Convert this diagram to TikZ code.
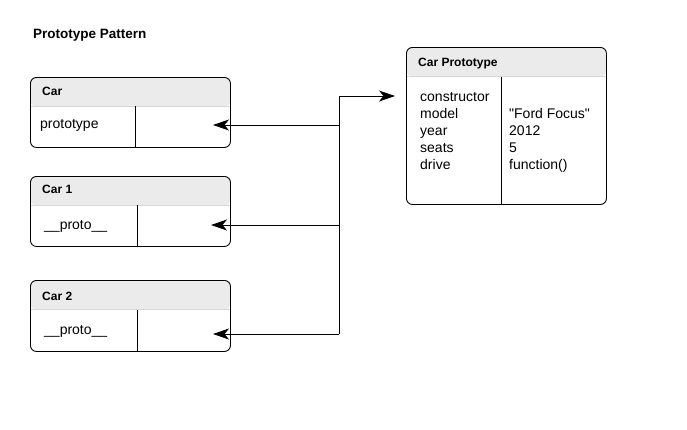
\documentclass[tikz,border=0pt]{standalone}
\usepackage{fontspec}
\setmainfont{Liberation Sans}
\usetikzlibrary{arrows.meta}
\definecolor{headgray}{HTML}{EBEBEB}
\definecolor{headline}{HTML}{D6D6D6}
\begin{document}
\begin{tikzpicture}[x=1pt,y=-1pt,
  frame/.style={draw=black, line width=0.9pt, rounded corners=6pt, inner sep=0pt, anchor=north west,
    minimum width=200pt,
    path picture={\fill[headgray] (path picture bounding box.north west) rectangle ([yshift=-29pt]path picture bounding box.north east);
      \draw[headline, line width=0.8pt] ([yshift=-29pt]path picture bounding box.north west) -- ([yshift=-29pt]path picture bounding box.north east);}},
  divider/.style={draw=black, line width=0.9pt},
  headtxt/.style={font=\bfseries\fontsize{12}{14}\selectfont, anchor=base west, inner sep=0pt},
  bodytxt/.style={font=\fontsize{14}{17}\selectfont, anchor=base west, inner sep=0pt},
  link/.style={draw=black, line width=0.9pt},
  arr/.style={link, -{Stealth[length=16pt, width=11pt, inset=4.5pt]}}
]
\useasboundingbox (0,0) rectangle (687,429);

% title
\node[font=\bfseries\fontsize{13.5}{16}\selectfont, anchor=base west, inner sep=0pt] (title) at (33,38) {Prototype Pattern};

% Car
\node[frame, minimum height=70pt] (car) at (30,77) {};
\draw[divider] ([shift={(105,29)}]car.north west) -- ([xshift=105pt]car.south west);
\node[headtxt] (carh) at (42,95.5) {Car};
\node[bodytxt] (carp) at (40,128.5) {prototype};

% Car 1
\node[frame, minimum height=70pt] (car1) at (30,176) {};
\draw[divider] ([shift={(107,29)}]car1.north west) -- ([xshift=107pt]car1.south west);
\node[headtxt] (car1h) at (42,193.5) {Car 1};
\node[bodytxt] (car1p) at (44,229.5) {\_\_proto\_\_};

% Car 2
\node[frame, minimum height=71pt] (car2) at (30,280) {};
\draw[divider] ([shift={(107,30)}]car2.north west) -- ([xshift=107pt]car2.south west);
\node[headtxt] (car2h) at (42,300) {Car 2};
\node[bodytxt] (car2p) at (44,334) {\_\_proto\_\_};

% Car Prototype
\node[frame, minimum height=157pt] (proto) at (406,47) {};
\draw[divider] ([shift={(95,30)}]proto.north west) -- ([xshift=95pt]proto.south west);
\node[headtxt] (protoh) at (418,66) {Car Prototype};
\node[bodytxt] (k1) at (420,101) {constructor};
\node[bodytxt] (k2) at (420,118) {model};
\node[bodytxt] (k3) at (420,135) {year};
\node[bodytxt] (k4) at (420,152) {seats};
\node[bodytxt] (k5) at (420,169) {drive};
\node[bodytxt] (v2) at (509,118) {\textquotedbl Ford Focus\textquotedbl};
\node[bodytxt] (v3) at (509,135) {2012};
\node[bodytxt] (v4) at (509,152) {5};
\node[bodytxt] (v5) at (509,169) {function()};

% connectors
\coordinate (hubtop) at (339,96);
\coordinate (hub0) at (339,125);
\coordinate (hub1) at (339,225);
\coordinate (hub2) at (339,334);
\coordinate (protoin) at (395,96);
\coordinate (carin) at (213,125);
\coordinate (car1in) at (211,225);
\coordinate (car2in) at (213,334);
\draw[link] (hubtop) -- (hub2);
\draw[arr] (hubtop) -- (protoin);
\draw[arr] (hub0) -- (carin);
\draw[arr] (hub1) -- (car1in);
\draw[arr] (hub2) -- (car2in);
\end{tikzpicture}
\end{document}
